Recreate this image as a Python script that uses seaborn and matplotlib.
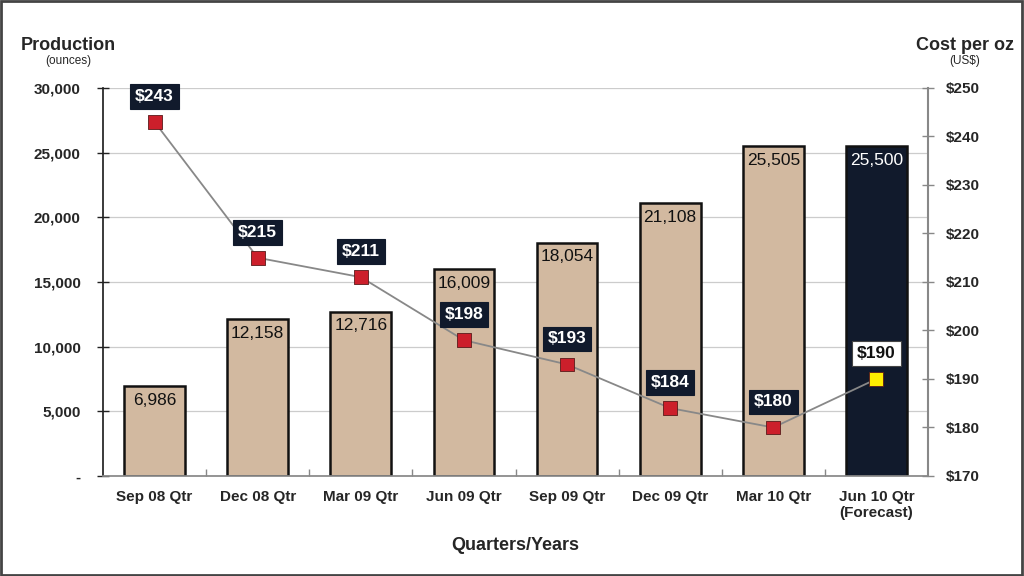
import numpy as np
import pandas as pd
import seaborn as sns
from matplotlib import pyplot as plt
from matplotlib.ticker import FuncFormatter, FixedLocator
from matplotlib.patches import Rectangle

quarters = ['Sep 08 Qtr', 'Dec 08 Qtr', 'Mar 09 Qtr', 'Jun 09 Qtr',
            'Sep 09 Qtr', 'Dec 09 Qtr', 'Mar 10 Qtr', 'Jun 10 Qtr\n(Forecast)']
production = [6986, 12158, 12716, 16009, 18054, 21108, 25505, 25500]
cost = [243, 215, 211, 198, 193, 184, 180, 190]

tan = '#d2b9a0'
navy = '#111a2c'
bar_colors = [tan] * 7 + [navy]

sns.set_theme(style='white')
plt.rcParams['font.family'] = ['Liberation Sans', 'DejaVu Sans']

df = pd.DataFrame({'quarter': quarters, 'production': production})

fig = plt.figure(figsize=(10.24, 5.76), dpi=100)
ax = fig.add_axes([103 / 1024, 1 - 476 / 576, 825 / 1024, 388 / 576])

sns.barplot(data=df, x='quarter', y='production', hue='quarter', palette=bar_colors,
            legend=False, width=0.59, edgecolor='#111111', linewidth=1.8, ax=ax, saturation=1)
ax.set_ylim(0, 30000)
ax.set_xlim(-0.5, len(quarters) - 0.5)
ax.yaxis.set_major_locator(FixedLocator(np.arange(0, 30001, 5000)))
ax.yaxis.set_major_formatter(FuncFormatter(lambda v, p: '-' if v == 0 else f'{int(v):,}'))
ax.grid(axis='y', color='#cccccc', linewidth=0.9)
ax.set_axisbelow(True)
for s in ['top', 'right']:
    ax.spines[s].set_visible(False)
ax.spines['left'].set_color('#222222')
ax.spines['bottom'].set_color('#888888')
ax.tick_params(axis='y', direction='inout', length=8, width=1, color='#222222', left=True,
               labelsize=11, pad=12)
ax.tick_params(axis='x', length=0, labelsize=11, pad=10)
for lbl in ax.get_yticklabels() + ax.get_xticklabels():
    lbl.set_fontweight('bold')
ax.set_xticks(np.arange(0.5, len(quarters) - 0.5), minor=True)
ax.tick_params(axis='x', which='minor', direction='in', length=5, color='#888888', bottom=True)
ax.set_ylabel('')
ax.set_xlabel('Quarters/Years', fontsize=13, fontweight='bold', labelpad=12)

for i, v in enumerate(production):
    ax.annotate(f'{v:,}', (i, v), xytext=(0, -5), textcoords='offset points',
                ha='center', va='top', fontsize=12.5,
                color='white' if i == len(production) - 1 else '#111111')

ax2 = ax.twinx()
ax2.set_ylim(170, 250)
ax2.set_yticks(np.arange(170, 251, 10))
ax2.yaxis.set_major_formatter(FuncFormatter(lambda v, p: f'${int(v)}'))
for s in ['top', 'left', 'bottom']:
    ax2.spines[s].set_visible(False)
ax2.spines['right'].set_color('#888888')
ax2.spines['right'].set_linewidth(1.5)
ax2.tick_params(axis='y', direction='inout', length=8, width=1, color='#888888', right=True,
                labelsize=11, pad=9)
for lbl in ax2.get_yticklabels():
    lbl.set_fontweight('bold')

x = np.arange(len(cost))
ax2.plot(x, cost, color='#888888', linewidth=1.3, zorder=3)
marker_colors = ['#cc1f2b'] * 7 + ['#ffee00']
ax2.scatter(x, cost, marker='s', s=100, c=marker_colors, edgecolors='#5a1a1a',
            linewidths=0.6, zorder=4)
for i, c in enumerate(cost):
    last = i == len(cost) - 1
    ax2.annotate(f'${c}', (i, c), xytext=(0, 13), textcoords='offset points',
                 ha='center', va='bottom', fontsize=12.5, fontweight='bold',
                 color='#111111' if last else 'white', zorder=5,
                 bbox=dict(boxstyle='square,pad=0.28',
                           facecolor='white' if last else navy,
                           edgecolor='#444444' if last else navy, linewidth=0.8))

fig.text(68 / 1024, 1 - 45 / 576, 'Production', ha='center', va='center',
         fontsize=13, fontweight='bold')
fig.text(68 / 1024, 1 - 61 / 576, '(ounces)', ha='center', va='center', fontsize=8.5)
fig.text(965 / 1024, 1 - 45 / 576, 'Cost per oz', ha='center', va='center',
         fontsize=13, fontweight='bold')
fig.text(965 / 1024, 1 - 61 / 576, '(US$)', ha='center', va='center', fontsize=8.5)

fig.patches.append(Rectangle((0.001, 0.002), 0.997, 0.996, transform=fig.transFigure,
                             fill=False, edgecolor='#444444', linewidth=2))

fig.savefig('out.png', dpi=100)
